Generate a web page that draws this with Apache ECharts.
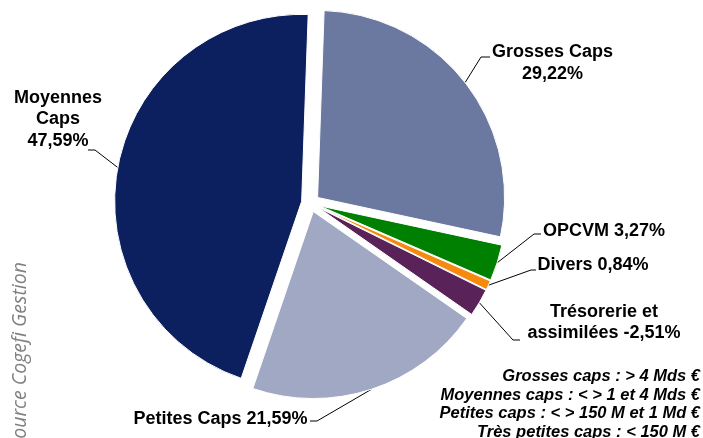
<!DOCTYPE html>
<html>
<head>
<meta charset="utf-8">
<script src="https://cdn.jsdelivr.net/npm/echarts@6/dist/echarts.min.js"></script>
<style>
html,body{margin:0;padding:0;background:#fff;}
#c{width:703px;height:438px;}
</style>
</head>
<body>
<div id="c"></div>
<script>
var categories = ['Grosses Caps', 'OPCVM', 'Divers', 'Trésorerie et assimilées', 'Petites Caps', 'Moyennes Caps'];
var values = [29.22, 3.27, 0.84, -2.51, 21.59, 47.59];
var labelLines = [['Grosses Caps', '29,22%'], ['OPCVM 3,27%'], ['Divers 0,84%'], ['Trésorerie et', 'assimilées -2,51%'], ['Petites Caps 21,59%'], ['Moyennes', 'Caps', '47,59%']];
var colors = ['#6B78A0', '#008000', '#F58A0F', '#59235A', '#A0A8C4', '#0C1F5E'];
var footnotes = ['Grosses caps : > 4 Mds €', 'Moyennes caps : < > 1 et 4 Mds €', 'Petites caps : < > 150 M et 1 Md €', 'Très petites caps : < 150 M €'];
var sourceText = 'Source Cogefi Gestion';

// ---- layout settings (positions / styles only) ----
var START_CW = 2;      // degrees clockwise from 12 o'clock where first slice starts
var OFFSET = 9;        // explode distance
var BOXW = 180;
var LH = 21.5;
// cx: centre x of text, c1: centre y of first line, bend/end: label-line elbow and end
var labelPos = [
  {cx: 552.5, c1: 51.5, bend: [481, 57], end: [490, 57]},
  {cx: 604, c1: 230, bend: [534, 234], end: [541, 234]},
  {cx: 593, c1: 264, bend: [531, 270], end: [536, 270]},
  {cx: 604, c1: 311, bend: [513, 340], end: [520, 340]},
  {cx: 220.5, c1: 418.5, bend: [317, 421], end: [310, 421]},
  {cx: 58, c1: 97, bend: [95, 150], end: [88, 150]}
];

var total = values.reduce(function (s, v) { return s + Math.abs(v); }, 0);
var acc = 0;
var offs = values.map(function (v) {
  var a = Math.abs(v);
  var mid = (START_CW + (acc + a / 2) / total * 360) * Math.PI / 180;
  acc += a;
  return [OFFSET * Math.sin(mid), -OFFSET * Math.cos(mid)];
});

var chart = echarts.init(document.getElementById('c'), null, {renderer: 'canvas'});
var data = categories.map(function (c, i) {
  return {
    name: c,
    value: Math.abs(values[i]),
    selected: true,
    itemStyle: {color: colors[i]},
    label: {formatter: labelLines[i].map(function (s) { return '{c|' + s + '}'; }).join('\n')}
  };
});

var graphics = footnotes.map(function (t, i) {
  return {
    type: 'text', right: 3, top: 368 + i * 18.5,
    style: {text: t, font: 'italic bold 16.5px "Liberation Sans", Arial', fill: '#000', textAlign: 'right'}
  };
});
graphics.push({
  type: 'text', x: 30, y: 262, rotation: Math.PI / 2,
  style: {text: sourceText, font: 'italic 19.5px "Open Sans"', fill: '#808080', align: 'right', verticalAlign: 'bottom'}
});

chart.setOption({
  animation: false,
  backgroundColor: '#fff',
  graphic: graphics,
  series: [{
    type: 'pie',
    center: [310.5, 203],
    radius: 187,
    startAngle: 90 - START_CW,
    clockwise: true,
    selectedMode: 'multiple',
    selectedOffset: OFFSET,
    avoidLabelOverlap: false,
    emphasis: {disabled: true},
    itemStyle: {borderColor: '#fff', borderWidth: 1},
    label: {
      show: true,
      position: 'outside',
      color: '#000',
      rich: {
        c: {width: BOXW, align: 'center', fontFamily: '"Liberation Sans", Arial', fontWeight: 'bold', fontSize: 18, lineHeight: LH, color: '#000'}
      }
    },
    labelLine: {show: true, length: 12, length2: 8, smooth: false, lineStyle: {color: '#000', width: 1}},
    labelLayout: function (p) {
      var i = p.dataIndex, lp = labelPos[i], o = offs[i], r = p.labelRect;
      var res = {
        dx: (lp.cx - BOXW / 2 - o[0]) - r.x,
        dy: (lp.c1 - LH / 2 + 2.5 - o[1]) - r.y
      };
      if (p.labelLinePoints && p.labelLinePoints.length) {
        var s = p.labelLinePoints[0];
        res.labelLinePoints = [
          [s[0], s[1]],
          [lp.bend[0] - o[0], lp.bend[1] - o[1]],
          [lp.end[0] - o[0], lp.end[1] - o[1]]
        ];
      }
      return res;
    },
    data: data
  }]
});
</script>
</body>
</html>
